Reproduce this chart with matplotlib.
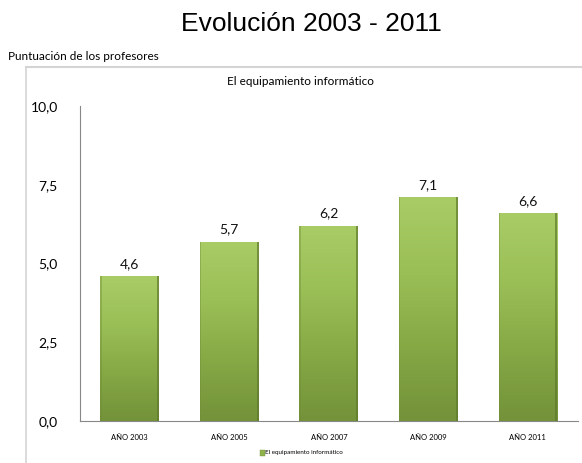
import matplotlib.pyplot as plt
import numpy as np
from matplotlib.colors import LinearSegmentedColormap
from matplotlib.patches import Rectangle

years = ['AÑO 2003', 'AÑO 2005', 'AÑO 2007', 'AÑO 2009', 'AÑO 2011']
scores = [4.6, 5.7, 6.2, 7.1, 6.6]
score_labels = ['4,6', '5,7', '6,2', '7,1', '6,6']
yticks = [0, 2.5, 5, 7.5, 10]
ytick_labels = ['0,0', '2,5', '5,0', '7,5', '10,0']

plt.rcParams['font.family'] = ['Lato', 'DejaVu Sans']

fig = plt.figure(figsize=(5.82, 4.63), dpi=100)
ax = fig.add_axes([0.1375, 0.0907, 0.855, 0.680])

x = np.arange(len(years))
bars = ax.bar(x, scores, width=0.59, color='#8fb24c', edgecolor='none', zorder=2)

# vertical gradient on each bar
green = LinearSegmentedColormap.from_list('g', ['#a9cc66', '#9bbf57', '#86a845', '#73923a'])
grad = np.linspace(0, 1, 256).reshape(-1, 1)
for b in bars:
    x0, w, h = b.get_x(), b.get_width(), b.get_height()
    im = ax.imshow(grad, cmap=green, aspect='auto', extent=(x0, x0 + w, 0, h),
                   origin='upper', zorder=3)
    im.set_clip_path(b)
    # darker side edges
    ax.add_patch(Rectangle((x0 + w * 0.965, 0), w * 0.035, h, color='#5f7a2c',
                           alpha=0.7, zorder=4, lw=0))
    ax.add_patch(Rectangle((x0, 0), w * 0.02, h, color='#6f8c35',
                           alpha=0.4, zorder=4, lw=0))

for xi, v, lab in zip(x, scores, score_labels):
    ax.text(xi, v + 0.2, lab, ha='center', va='bottom', fontsize=10, color='#111111')

ax.set_xlim(-0.5, len(years) - 0.5)
ax.set_ylim(0, 10)
ax.set_yticks(yticks)
ax.set_yticklabels(ytick_labels, fontsize=10)
ax.set_xticks(x)
ax.set_xticklabels(years, fontsize=5.5)
ax.tick_params(axis='both', length=0, pad=9)
ax.tick_params(axis='y', pad=16)
for s in ['top', 'right']:
    ax.spines[s].set_visible(False)
ax.spines['left'].set_color('#888888')
ax.spines['bottom'].set_color('#888888')

# titles and frame
fig.text(0.535, 0.948, 'Evolución 2003 - 2011', ha='center', va='center',
         fontsize=19, family=['Liberation Sans', 'DejaVu Sans'])
fig.text(0.014, 0.877, 'Puntuación de los profesores', ha='left', va='center', fontsize=8.5)
fig.text(0.516, 0.823, 'El equipamiento informático', ha='center', va='center', fontsize=8.5)
fig.add_artist(plt.Line2D([0.044, 1.0], [0.855, 0.855], color='#d4d4d4', lw=1.5))
fig.add_artist(plt.Line2D([0.044, 0.044], [0.0, 0.855], color='#d4d4d4', lw=1.2))

# legend
fig.patches.append(Rectangle((0.446, 0.016), 0.009, 0.011, transform=fig.transFigure,
                             facecolor='#8fb24c', edgecolor='#76953a', lw=0.3))
fig.text(0.456, 0.022, 'El equipamiento informático', ha='left', va='center', fontsize=4.5)

plt.savefig('out.png', dpi=100)
